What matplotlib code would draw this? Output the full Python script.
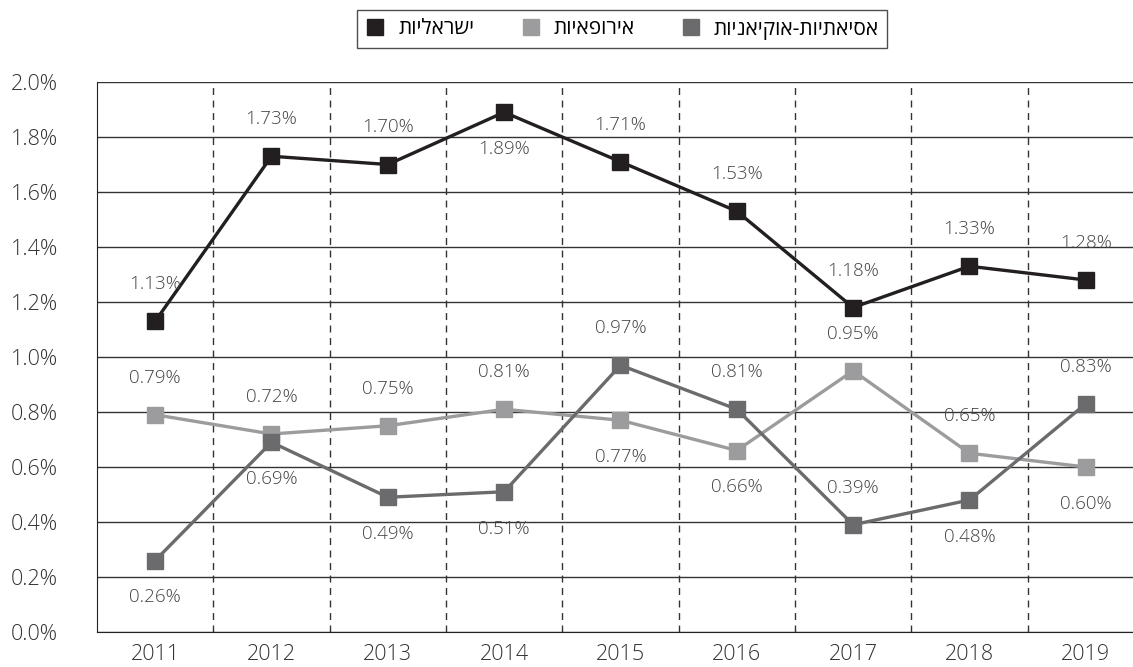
import matplotlib
matplotlib.use('Agg')
import matplotlib.pyplot as plt
from matplotlib.ticker import FuncFormatter

years = ['2011', '2012', '2013', '2014', '2015', '2016', '2017', '2018', '2019']
israeli = [1.13, 1.73, 1.70, 1.89, 1.71, 1.53, 1.18, 1.33, 1.28]
european = [0.79, 0.72, 0.75, 0.81, 0.77, 0.66, 0.95, 0.65, 0.60]
asian = [0.26, 0.69, 0.49, 0.51, 0.97, 0.81, 0.39, 0.48, 0.83]

# label above (+1) or below (-1) each point
israeli_pos = [1, 1, 1, -1, 1, 1, 1, 1, 1]
european_pos = [1, 1, 1, 1, -1, -1, 1, 1, -1]
asian_pos = [-1, -1, -1, -1, 1, 1, 1, -1, 1]

names = ['ישראליות', 'אירופאיות', 'אסיאתיות-אוקיאניות']
colors = ['#231f20', '#9c9c9e', '#6b6b6e']

plt.rcParams['font.family'] = ['Open Sans', 'DejaVu Sans']

fig = plt.figure(figsize=(11.33, 6.67), dpi=100)
ax = fig.add_axes([97 / 1133, 1 - 632 / 667, 1 - 97 / 1133, (632 - 82) / 667])

x = list(range(len(years)))
series = [(israeli, israeli_pos), (european, european_pos), (asian, asian_pos)]
for (vals, pos), name, c in zip(series, names, colors):
    # matplotlib has no bidi support, so hebrew text is reversed by hand
    ax.plot(x, vals, color=c, lw=2.4, marker='s', markersize=11,
            label=name[::-1], zorder=3)
    for xi, v, p in zip(x, vals, pos):
        ax.annotate(f'{v:.2f}%', (xi, v), xytext=(0, 37 * p),
                    textcoords='offset pixels', fontweight='light',
                    ha='center', va='center', fontsize=13.5, color='#444444')

ax.set_ylim(0, 2.0)
ax.set_xlim(-0.5, 8.5 - 11 / 116.4)
ax.set_yticks([i * 0.2 for i in range(11)])
ax.yaxis.set_major_formatter(FuncFormatter(lambda v, _: f'{v:.1f}%'))
ax.set_xticks(x)
ax.set_xticklabels(years)
ax.tick_params(axis='y', length=0, pad=28, labelsize=15.5, colors='#333333')
ax.tick_params(axis='x', length=0, pad=9, labelsize=15.5, colors='#333333')
for lbl in ax.get_xticklabels() + ax.get_yticklabels():
    lbl.set_fontweight('light')

ax.grid(axis='y', color='#333333', lw=1, zorder=1)
for b in range(len(years) - 1):
    ax.axvline(b + 0.5, color='#333333', lw=1, ls=(0, (5, 4)), zorder=1)

for s in ['top', 'right']:
    ax.spines[s].set_visible(False)
ax.spines['left'].set_color('#222222')
ax.spines['bottom'].set_color('#222222')

leg = fig.legend(loc='center', bbox_to_anchor=(622 / 1133, 1 - 29 / 667), ncol=3,
                 prop={'family': ['Open Sans', 'DejaVu Sans'], 'size': 15},
                 frameon=True, fancybox=False, edgecolor='#222222',
                 handlelength=1.0, handletextpad=0.6, columnspacing=2.2,
                 borderpad=0.4)
for h in leg.legend_handles:
    h.set_linestyle('none')
leg.get_frame().set_linewidth(1.0)

fig.savefig('out.png', dpi=100)
